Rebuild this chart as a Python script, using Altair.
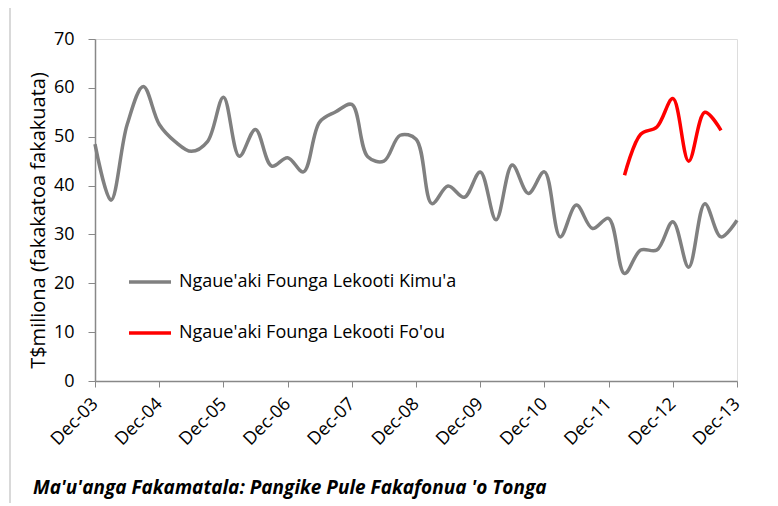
import altair as alt
import pandas as pd

quarters = pd.date_range("2003-12-01", "2013-12-01", freq="3MS").strftime("%Y-%m-%d").tolist()

old_values = [48.5, 37.0, 52.5, 60.3, 52.5, 49.0, 47.0, 49.0, 58.1, 46.0,
              51.5, 44.0, 45.7, 42.8, 53.0, 55.1, 56.6, 45.9, 45.0, 50.3,
              49.5, 36.3, 39.9, 37.6, 42.8, 33.0, 44.2, 38.4, 42.8, 29.5,
              36.0, 31.2, 33.3, 22.0, 26.8, 26.8, 32.6, 23.3, 36.3, 29.5,
              32.9]
new_dates = ["2012-03-01", "2012-06-01", "2012-09-01", "2012-12-01",
             "2013-03-01", "2013-06-01", "2013-09-01"]
new_values = [42.1, 50.5, 52.0, 57.8, 45.0, 55.0, 51.3]

s_old = "Ngaue'aki Founga Lekooti Kimu'a"
s_new = "Ngaue'aki Founga Lekooti Fo'ou"
source_text = ["Ma'u'anga Fakamatala: Pangike Pule Fakafonua 'o Tonga"]
tick_dates = [f"{y}-12-01" for y in range(2003, 2014)]

df = pd.concat([
    pd.DataFrame({"date": quarters, "value": old_values, "series": s_old}),
    pd.DataFrame({"date": new_dates, "value": new_values, "series": s_new}),
])

FONT = "Open Sans"

lines = alt.Chart(df).mark_line(strokeWidth=3.5, interpolate="catmull-rom").encode(
    x=alt.X("date:T",
            scale=alt.Scale(domain=["2003-12-01", "2013-12-01"]),
            axis=alt.Axis(values=[pd.Timestamp(d).isoformat() for d in tick_dates],
                          format="%b-%y", labelAngle=-45, labelAlign="right",
                          labelBaseline="middle", labelPadding=14, title=None,
                          grid=False, tickSize=6, labelFontSize=18,
                          labelFont=FONT, labelColor="#000",
                          domainColor="#888", tickColor="#888", domainWidth=1.5)),
    y=alt.Y("value:Q",
            scale=alt.Scale(domain=[0, 70]),
            axis=alt.Axis(values=list(range(0, 80, 10)), grid=False, tickSize=7,
                          title="T$miliona (fakakatoa fakakuata)",
                          titleFont=FONT, titleFontSize=20, titleFontWeight="normal",
                          titleColor="#000", titlePadding=5, titleY=181,
                          labelFontSize=18, labelFont=FONT, labelColor="#000",
                          labelPadding=14,
                          domainColor="#888", tickColor="#888", domainWidth=1.5)),
    color=alt.Color("series:N",
                    scale=alt.Scale(domain=[s_old, s_new], range=["#808080", "#ff0000"]),
                    legend=alt.Legend(orient="none", legendX=32, legendY=220, title=None,
                                      symbolType="stroke", symbolSize=1764,
                                      symbolStrokeWidth=3.5, labelFontSize=18,
                                      labelFont=FONT, labelColor="#000", labelLimit=0,
                                      rowPadding=19, labelOffset=6, padding=0)),
)

caption = alt.Chart(pd.DataFrame({"t": source_text})).mark_text(
    align="left", baseline="middle", fontSize=19, font=FONT,
    fontStyle="italic", fontWeight="bold", color="#000"
).encode(text="t:N", x=alt.value(-62), y=alt.value(449))

frame = alt.Chart(pd.DataFrame({"t": source_text})).mark_rule(
    color="#d9d9d9", strokeWidth=2
).encode(x=alt.value(-85), y=alt.value(-39), y2=alt.value(470))

chart = alt.layer(frame, lines, caption).properties(
    width=642, height=342,
    autosize=alt.AutoSizeParams(type="none"),
    padding={"left": 87, "top": 31, "right": 30, "bottom": 122},
).configure_view(stroke=None).configure(background="white")

chart.save("out.html", embed_options={"renderer": "svg", "actions": False})
